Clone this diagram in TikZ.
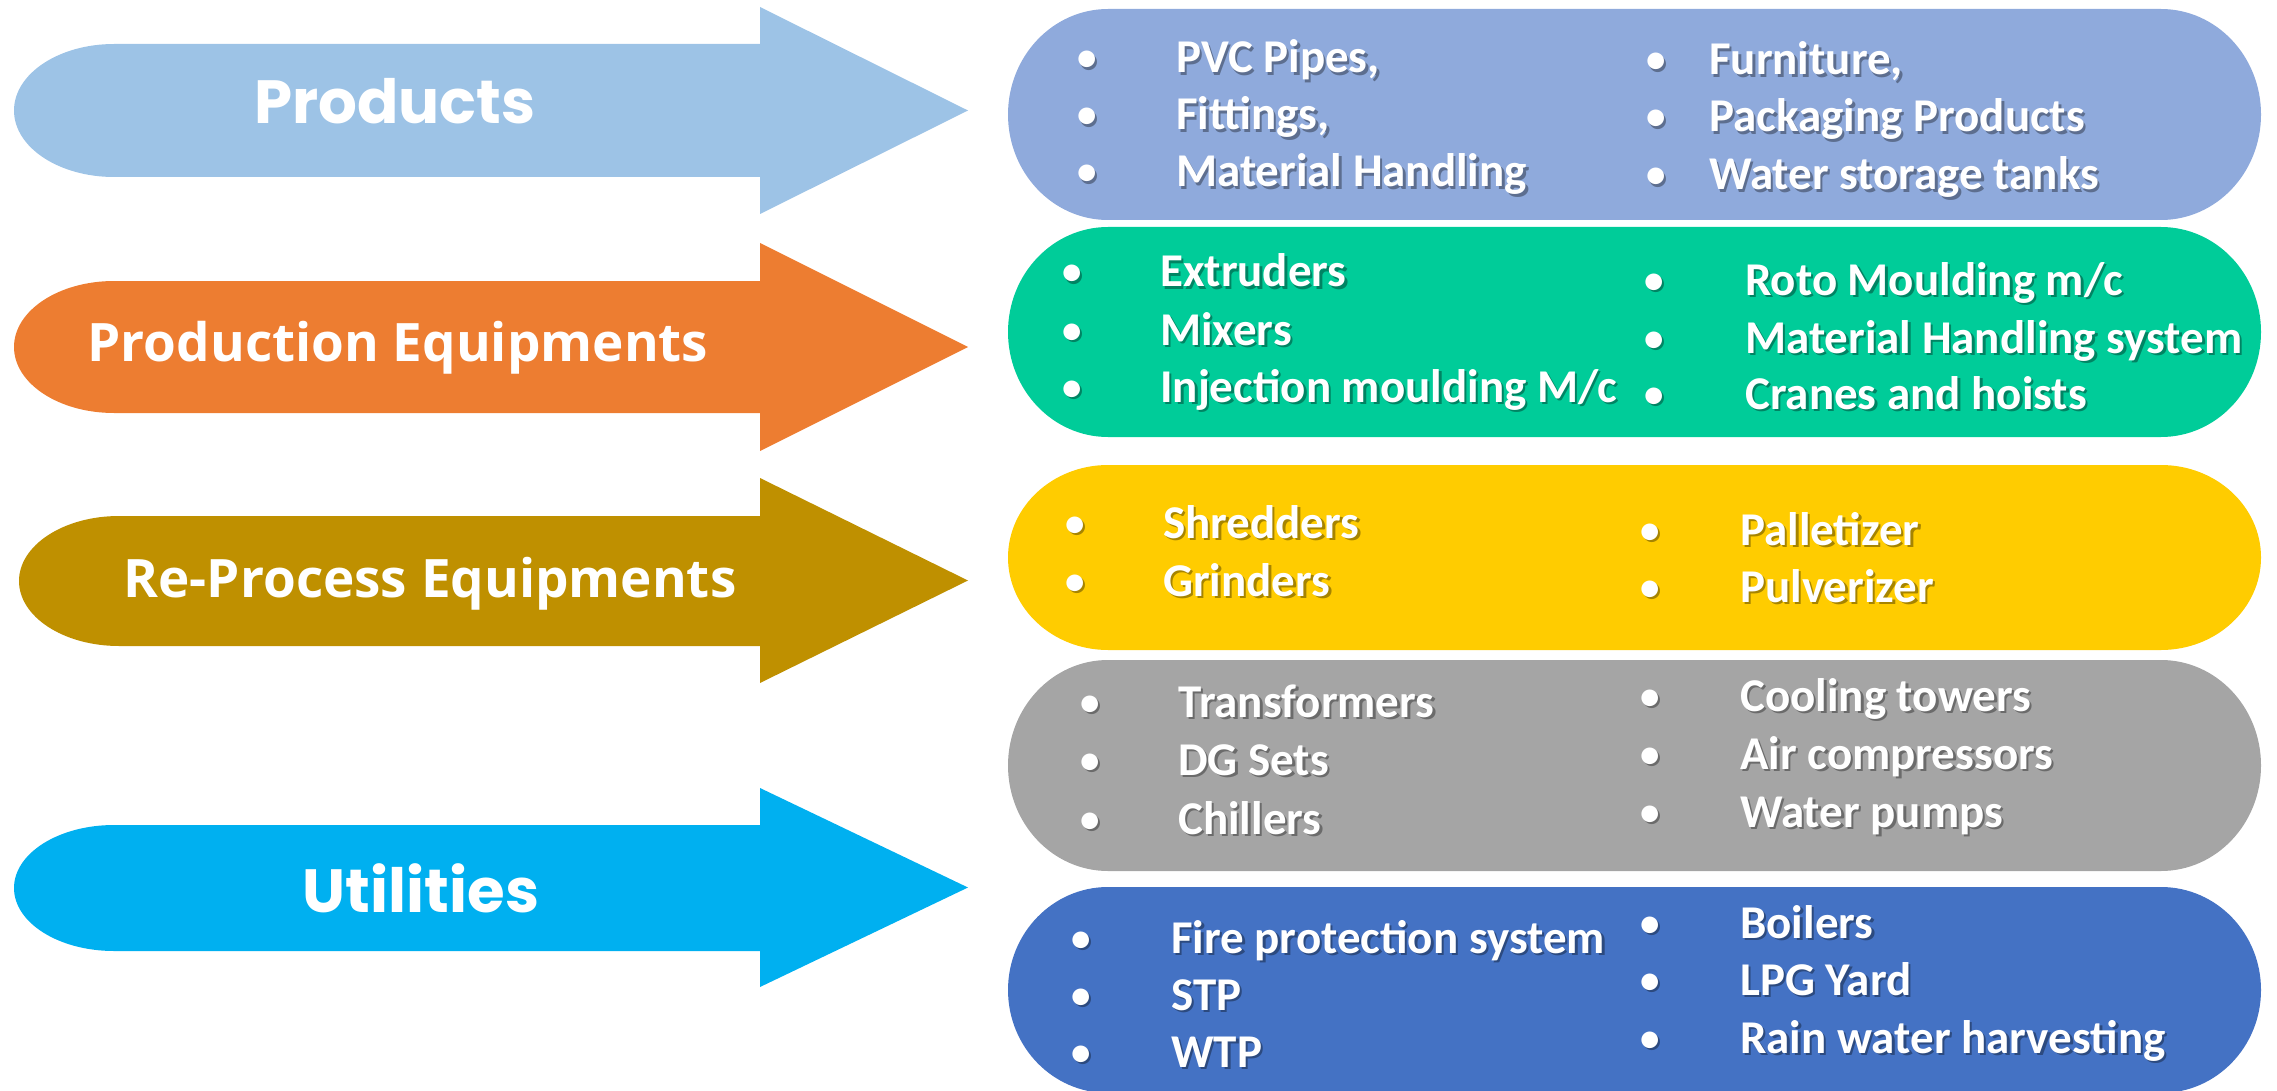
\documentclass[tikz,border=0pt]{standalone}
\usepackage{fontspec}
\setmainfont{Carlito}
\newfontfamily\popfont{Poppins}
\newfontfamily\opfont{Open Sans}
\usepackage{tikz}
\definecolor{arrA}{HTML}{9DC3E6}
\definecolor{arrB}{HTML}{ED7D31}
\definecolor{arrC}{HTML}{BF9000}
\definecolor{arrD}{HTML}{00B0F0}
\definecolor{boxA}{HTML}{8FAADC}
\definecolor{boxB}{HTML}{00CC99}
\definecolor{boxC}{HTML}{FFCC00}
\definecolor{boxD}{HTML}{A5A5A5}
\definecolor{boxE}{HTML}{4472C4}

\begin{document}
\begin{tikzpicture}[x=1pt,y=-1pt,every node/.style={inner sep=0pt,text=white},
    poplab/.style={anchor=base,font=\popfont\bfseries\fontsize{61}{74}\selectfont},
    oplab/.style={anchor=base,font=\opfont\bfseries\fontsize{53}{64}\selectfont},
    item/.style={anchor=base west,font=\bfseries\fontsize{47}{57}\selectfont},
    dot/.style={anchor=base,font=\fontsize{47}{57}\selectfont},
    shade/.style={text=black,opacity=0.35}]
    \useasboundingbox (0,0) rectangle (2277,1091);
    % arrows on the left
    \foreach \t/\b/\ht/\hb/\l/\col in {44/177/7/214/14/arrA,281/413/243/451/14/arrB,
        516/646/478/683/19/arrC,825/951/788/987/14/arrD}{
        \pgfmathsetmacro\ry{(\b-\t)/2}
        \pgfmathsetmacro\m{(\ht+\hb)/2}
        \fill[\col] (\l+100,\t) -- (760,\t) -- (760,\ht) -- (968,\m) -- (760,\hb) -- (760,\b)
            -- (\l+100,\b) arc[start angle=90,end angle=270,x radius=100,y radius=\ry] -- cycle;
    }
    \node[poplab] (products) at (395,124) {Products};
    \node[oplab] (prodeq) at (398,361) {Production Equipments};
    \node[oplab] (reproc) at (430,597) {Re-Process Equipments};
    \node[poplab] (utils) at (421,912) {Utilities};
    % rounded boxes on the right
    \foreach \t/\b/\col in {9/220/boxA,227/437/boxB,465/650/boxC,660/871/boxD,887/1093/boxE}{
        \pgfmathsetmacro\ry{(\b-\t)/2}
        \fill[\col] (1108,\t) -- (2161,\t) arc[start angle=-90,end angle=90,x radius=100,y radius=\ry]
            -- (1108,\b) arc[start angle=90,end angle=270,x radius=100,y radius=\ry] -- cycle;
    }
    \foreach \bx/\tx/\y/\txt [count=\i] in {
        1087/1176/73/{PVC Pipes,},1087/1176/130/{Fittings,},1087/1176/187/{Material Handling},
        1656/1709/75/{Furniture,},1656/1709/132/{Packaging Products},1656/1709/190/{Water storage tanks},
        1072/1160/287/{Extruders},1072/1160/345/{Mixers},1072/1160/402/{Injection moulding M/c},
        1654/1745/295/{Roto Moulding m/c},1654/1745/353/{Material Handling system},1654/1745/409/{Cranes and hoists},
        1075/1163/538/{Shredders},1075/1163/596/{Grinders},
        1650/1740/545/{Palletizer},1650/1740/602/{Pulverizer},
        1090/1178/717/{Transformers},1090/1178/775/{DG Sets},1090/1178/834/{Chillers},
        1650/1740/711/{Cooling towers},1650/1740/769/{Air compressors},1650/1740/827/{Water pumps},
        1081/1171/953/{Fire protection system},1081/1171/1010/{STP},1081/1171/1067/{WTP},
        1650/1740/938/{Boilers},1650/1740/995/{LPG Yard},1650/1740/1053/{Rain water harvesting}}{
        \node[item,shade] at (\tx+2.5,\y+2.5) {\txt};
        \node[item] (it\i) at (\tx,\y) {\txt};
        \node[dot,shade] at (\bx+2.5,\y+2.5) {\textbullet};
        \node[dot] (bu\i) at (\bx,\y) {\textbullet};
    }
\end{tikzpicture}
\end{document}
